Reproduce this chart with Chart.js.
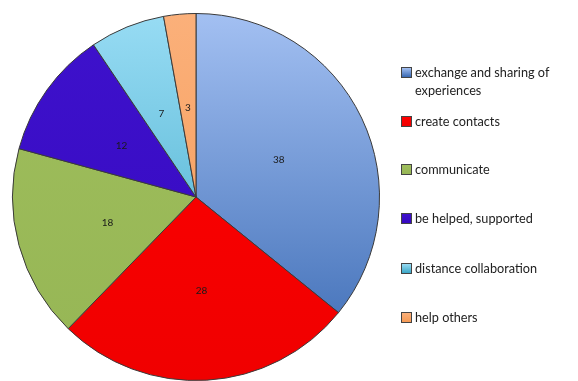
<!DOCTYPE html>
<html>
<head>
<meta charset="utf-8">
<script src="https://cdn.jsdelivr.net/npm/chart.js@4/dist/chart.umd.min.js"></script>
<style>
  body { margin: 0; background: #fff; }
  #wrap { position: relative; width: 578px; height: 381px; }
  #legend { position: absolute; left: 401px; top: 63px; font-family: Lato, sans-serif; font-size: 12.7px; color: #222; }
  .item { position: absolute; left: 0; white-space: nowrap; line-height: 18px; }
  .box { position: absolute; left: 0; top: 4px; width: 9px; height: 9px; border: 1px solid #444; }
  .txt { position: absolute; left: 14px; top: 0; }
</style>
</head>
<body>
<div id="wrap">
  <canvas id="pie" width="578" height="381"></canvas>
  <div id="legend"></div>
</div>
<script>
const labels = ['exchange and sharing of experiences', 'create contacts', 'communicate', 'be helped, supported', 'distance collaboration', 'help others'];
const legendLines = [['exchange and sharing of', 'experiences'], ['create contacts'], ['communicate'], ['be helped, supported'], ['distance collaboration'], ['help others']];
const values = [38, 28, 18, 12, 7, 3];
// top / bottom colour of each slice gradient
const colorsTop = ['#a3c0f2', '#ff0000', '#9fbe5c', '#3e12cc', '#98dcf4', '#fbb07a'];
const colorsBottom = ['#3868b2', '#f00000', '#96b655', '#3608c0', '#3aa6c6', '#f59a55'];

const legendTops = [0, 49, 97, 146, 196, 245];

const legend = document.getElementById('legend');
legendLines.forEach((lines, i) => {
    const item = document.createElement('div');
    item.className = 'item';
    item.style.top = legendTops[i] + 'px';
    item.innerHTML = `<div class="box" style="background: linear-gradient(${colorsTop[i]}, ${colorsBottom[i]});"></div>` +
        `<div class="txt">${lines.join('<br>')}</div>`;
    legend.appendChild(item);
});

function sliceFill(context) {
    const chart = context.chart;
    const area = chart.chartArea;
    if (!area) return colorsBottom[context.dataIndex];
    const g = chart.ctx.createLinearGradient(0, area.top, 0, area.bottom);
    g.addColorStop(0, colorsTop[context.dataIndex]);
    g.addColorStop(1, colorsBottom[context.dataIndex]);
    return g;
}

// draws the value in the middle of each slice
const valueLabels = {
    id: 'valueLabels',
    afterDatasetsDraw(chart) {
        const ctx = chart.ctx;
        const meta = chart.getDatasetMeta(0);
        ctx.save();
        ctx.font = '10px Lato, sans-serif';
        ctx.fillStyle = '#1a1a1a';
        ctx.textAlign = 'center';
        ctx.textBaseline = 'middle';
        meta.data.forEach((arc, i) => {
            const p = arc.tooltipPosition();
            ctx.fillText(String(values[i]), p.x, p.y + 2);
        });
        ctx.restore();
    }
};

new Chart(document.getElementById('pie'), {
    type: 'pie',
    data: {
        labels: labels,
        datasets: [{
            data: values,
            backgroundColor: sliceFill,
            borderColor: '#3a3a3a',
            borderWidth: 1,
            hoverOffset: 0
        }]
    },
    options: {
        responsive: false,
        animation: false,
        layout: { padding: { left: 12, right: 198, top: 13, bottom: 0 } },
        plugins: {
            legend: { display: false },
            tooltip: { enabled: false }
        }
    },
    plugins: [valueLabels]
});
</script>
</body>
</html>
